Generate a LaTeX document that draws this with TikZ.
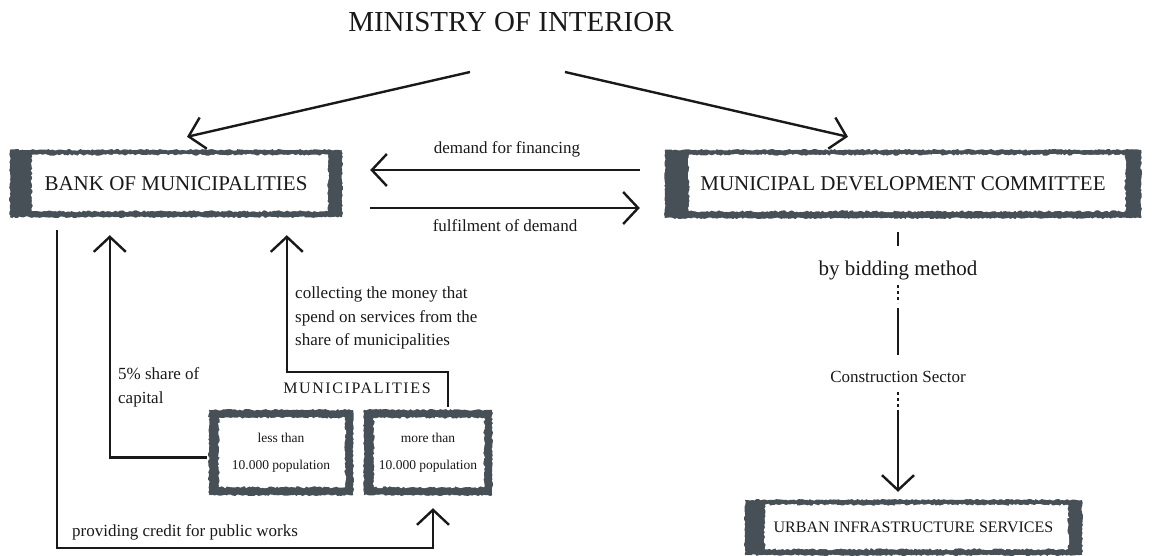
\documentclass[tikz,border=0pt]{standalone}
\usepackage{fontspec}
\setmainfont{Liberation Serif}
\usetikzlibrary{arrows.meta,calc,decorations.pathmorphing}
\pgfdeclarelayer{background}
\pgfsetlayers{background,main}
\definecolor{framec}{RGB}{70,80,86}
\definecolor{ink}{RGB}{25,25,25}
\newcommand{\roughframe}[5]{%
  \fill[framec, decorate, decoration={random steps,segment length=2pt,amplitude=0.8pt}]
    (#1.north west) rectangle (#1.south east);
  \fill[white, decorate, decoration={random steps,segment length=2pt,amplitude=1pt}]
    ($(#1.north west)+(#2,#4)$) rectangle ($(#1.south east)+(-#3,-#5)$);
}
\begin{document}
\begin{tikzpicture}[x=1pt,y=-1pt,
  conn/.style={line width=2.4pt, draw=ink},
  arr/.style={conn, -{Straight Barb[length=15pt,width=32pt]}},
  boxn/.style={inner sep=0pt, text=ink, align=center},
  lab/.style={inner sep=0pt, text=ink, font=\fontsize{17}{24}\selectfont},
  bigfont/.style={font=\fontsize{21}{25}\selectfont}]
\pgfmathsetseed{7}
\useasboundingbox (0,0) rectangle (1152,555);

% title
\node[inner sep=0pt, text=ink, font=\fontsize{29}{33}\selectfont] (title) at (511,22) {MINISTRY OF INTERIOR};
\coordinate (minL) at (470,72);
\coordinate (minR) at (565,72);

% boxes
\node[boxn, bigfont, minimum width=332pt, minimum height=67pt] (bank) at (176,183.5) {BANK OF MUNICIPALITIES};
\node[boxn, bigfont, minimum width=476pt, minimum height=68pt] (mdc) at (903,184) {\raisebox{-5pt}{MUNICIPAL DEVELOPMENT COMMITTEE}};
\node[boxn, font=\fontsize{16}{20}\selectfont, minimum width=337pt, minimum height=55pt] (urban) at (913.5,527.5) {\raisebox{-2pt}{URBAN INFRASTRUCTURE SERVICES}};
\node[boxn, font=\fontsize{13.5}{27}\selectfont, minimum width=144pt, minimum height=85pt] (less) at (281,452.5) {less than\\10.000 population};
\node[boxn, font=\fontsize{13.5}{27}\selectfont, minimum width=128pt, minimum height=85pt] (more) at (428,452.5) {more than\\10.000 population};

\begin{pgfonlayer}{background}
  \roughframe{bank}{22}{14}{5}{6}
  \roughframe{mdc}{24}{16}{5}{7}
  \roughframe{urban}{20}{14}{5}{6}
  \roughframe{less}{10}{8}{8}{8}
  \roughframe{more}{10}{8}{8}{8}
\end{pgfonlayer}

% labels
\node[lab] (dem) at (507,149) {demand for financing};
\node[lab] (ful) at (505,226) {fulfilment of demand};
\node[lab, anchor=west] (prov) at (72,532) {providing credit for public works};
\node[lab, anchor=west, align=left] (share) at (118,387) {5\% share of\\capital};
\node[lab, anchor=west, align=left, font=\fontsize{17}{23.5}\selectfont] (coll) at (295,318) {collecting the money that\\spend on services from the\\share of municipalities};
\node[lab, font=\fontsize{16}{20}\selectfont\addfontfeature{LetterSpace=10}] (munis) at (357,388) {MUNICIPALITIES};
\node[lab, bigfont] (bid) at (898,270) {by bidding method};
\node[lab] (cons) at (898,377) {Construction Sector};

% connectors
\draw[arr] (minL) -- ($(bank.north)+(11,-13)$);
\draw[arr] (minR) -- ($(mdc.north)+(-55,-13)$);
\draw[arr, shorten <=25pt, shorten >=28pt] (mdc.west |- 0,170) -- (bank.east |- 0,170);
\draw[arr, shorten <=28pt, shorten >=25pt] (bank.east |- 0,208) -- (mdc.west |- 0,208);
\draw[arr] ($(bank.south west)+(47,13)$) |- ($(more.south)+(5,53)$) -- ($(more.south)+(5,13)$);
\draw[arr] ($(less.west)+(-2,5)$) -| ($(bank.south west)+(100,18)$);
\draw[arr] ($(more.north)+(20,-3)$) -- ++(0,-35) -| ($(bank.south west)+(277,18)$);

\draw[conn] ($(mdc.south)+(-5,14)$) -- ++(0,14);
\draw[conn, dash pattern=on 3pt off 3pt] ($(bid)+(0,15)$) -- ++(0,18);
\draw[conn] ($(bid)+(0,38)$) -- ++(0,47);
\draw[conn, dash pattern=on 3pt off 3pt] ($(cons)+(0,15)$) -- ++(0,18);
\draw[arr] ($(cons)+(0,33)$) -- ($(urban.north)+(-15.5,-8)$);
\end{tikzpicture}
\end{document}
